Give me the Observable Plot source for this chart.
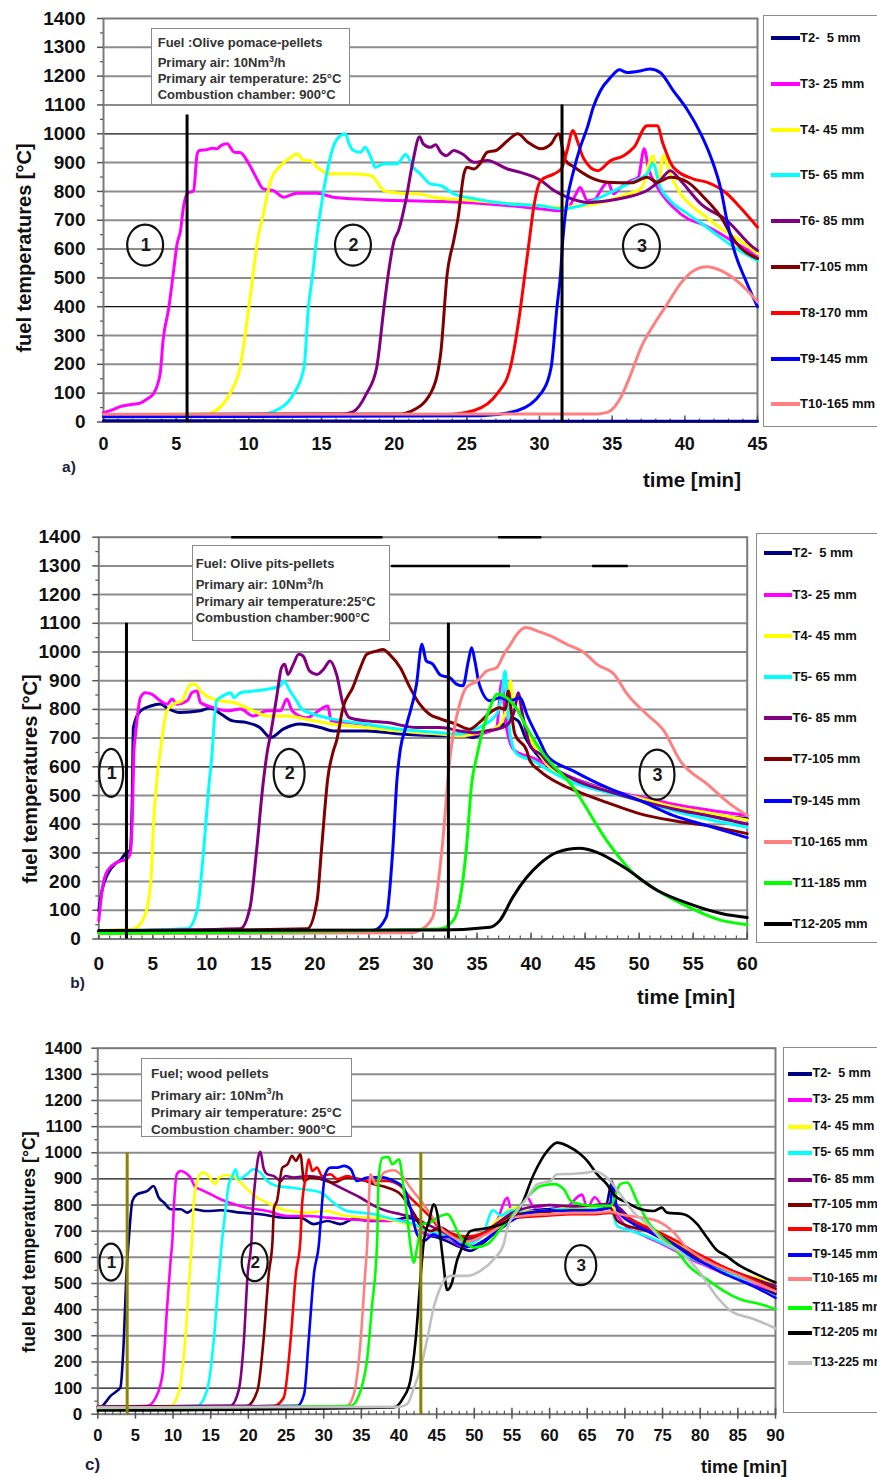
<!DOCTYPE html>
<html><head><meta charset="utf-8">
<script src="https://cdn.jsdelivr.net/npm/d3@7"></script>
<script src="https://cdn.jsdelivr.net/npm/@observablehq/plot@0.6"></script>
<style>
body{margin:0;background:#fff;}
#root{position:relative;width:877px;height:1477px;overflow:hidden;font-family:"Liberation Sans",Arial,sans-serif;font-weight:bold;color:#111;}
#root svg{position:absolute;left:0;}
.box{position:absolute;background:#fff;border:1.5px solid #8a8a8a;box-sizing:border-box;}
.note{position:absolute;background:#fff;border:1.5px solid #8a8a8a;box-sizing:border-box;font-size:13px;color:#333;white-space:nowrap;}
.lbl{position:absolute;white-space:pre;transform:translate(-50%,-50%);}
.ytitle{position:absolute;white-space:nowrap;transform:translate(-50%,-50%) rotate(-90deg);}
.legtxt{position:absolute;white-space:pre;font-size:13px;color:#111;}
.legline{position:absolute;height:4px;}
</style></head>
<body><div id="root"></div>
<script>
// ---------------- series names / colours ----------------
const seriesColors = {T2:"#000080",T3:"#ff00ff",T4:"#ffff00",T5:"#00ffff",T6:"#800080",T7:"#800000",T8:"#ff0000",T9:"#0000ff",T10:"#ff8080",T11:"#00ff00",T12:"#000000",T13:"#c0c0c0"};

const legendA = ["T2-  5 mm","T3- 25 mm","T4- 45 mm","T5- 65 mm","T6- 85 mm","T7-105 mm","T8-170 mm","T9-145 mm","T10-165 mm"];
const legendB = ["T2-  5 mm","T3- 25 mm","T4- 45 mm","T5- 65 mm","T6- 85 mm","T7-105 mm","T9-145 mm","T10-165 mm","T11-185 mm","T12-205 mm"];
const legendC = ["T2-  5 mm","T3- 25 mm","T4- 45 mm","T5- 65 mm","T6- 85 mm","T7-105 mm","T8-170 mm","T9-145 mm","T10-165 mm","T11-185 mm","T12-205 mm","T13-225 mm"];

const yTicks = [0,100,200,300,400,500,600,700,800,900,1000,1100,1200,1300,1400];
const yMinor = [50,150,250,350,450,550,650,750,850,950,1050,1150,1250,1350];
const xTicksA = [0,5,10,15,20,25,30,35,40,45];
const xTicksB = [0,5,10,15,20,25,30,35,40,45,50,55,60];
const xTicksC = [0,5,10,15,20,25,30,35,40,45,50,55,60,65,70,75,80,85,90];

// ---------------- panel a : olive pomace pellets ----------------
const a_T2 = [[0,4],[10,4],[20,3],[30,3],[45,3]];
const a_T3 = [[0,32],[0.6,42],[1.2,54],[1.8,60],[2.5,65],[3.0,80],[3.45,99],[3.9,168],[4.1,283],[4.5,398],[4.8,515],[5.07,619],[5.3,664],[5.5,745],[5.75,792],[6.2,803],[6.45,931],[6.6,942],[7.1,945],[7.5,950],[7.8,948],[8.1,960],[8.5,965],[9.0,936],[9.4,935],[10.0,896],[10.5,849],[11.0,809],[11.7,803],[12.4,780],[13.3,794],[14.7,794],[15.8,780],[18.1,772],[23.2,765],[26,758],[28,750],[30,740],[31.4,733],[32.0,745],[32.5,790],[32.8,814],[33.3,768],[33.8,772],[34.2,803],[34.7,832],[35.1,792],[35.6,815],[36.2,835],[36.8,850],[37.2,948],[37.5,880],[38.1,815],[39.2,745],[40.2,705],[41.1,688],[42.2,660],[43.2,630],[44.2,600],[45,570]];
const a_T4 = [[0,25],[7.0,28],[7.6,36],[8.7,99],[9.4,190],[10.0,398],[10.3,515],[10.6,630],[11.0,722],[11.5,837],[12.2,890],[12.9,918],[13.3,931],[13.8,907],[14.2,907],[14.7,884],[15.6,861],[17.0,861],[18.4,855],[19.3,803],[20.4,794],[21.6,792],[22.7,780],[25,770],[28,758],[30,750],[31.5,745],[33,750],[34.5,765],[36,790],[37.0,810],[37.8,924],[38.2,826],[38.5,924],[39.0,860],[39.7,792],[40.6,745],[41.5,710],[42.7,664],[43.8,630],[45,585]];
const a_T5 = [[0,25],[11.0,28],[11.7,36],[13.1,99],[13.8,190],[14.1,398],[14.4,515],[14.65,630],[14.9,722],[15.5,896],[16.0,976],[16.65,1000],[16.9,965],[17.2,942],[17.7,936],[18.0,953],[18.4,918],[18.7,884],[19.3,896],[20.2,896],[20.8,928],[21.3,884],[21.8,861],[22.5,826],[23.2,820],[24.1,792],[25.5,775],[27.8,757],[30.1,750],[31.5,740],[32.8,750],[34.7,792],[36.5,837],[37.4,860],[37.8,896],[38.3,815],[39.0,768],[40.2,722],[41.5,676],[43.4,606],[45,560]];
const a_T6 = [[0,25],[16.5,28],[17.2,36],[18.1,99],[18.8,190],[19.3,398],[19.6,515],[20.0,630],[20.3,664],[20.8,768],[21.3,907],[21.75,990],[22.0,965],[22.5,953],[22.85,962],[23.2,936],[23.6,924],[24.1,942],[24.7,930],[25.5,901],[26.4,907],[27.8,878],[28.7,866],[30.1,838],[31.0,803],[31.9,780],[33.3,762],[34.7,768],[36.0,780],[37.4,803],[38.3,838],[39.0,872],[39.7,838],[41.1,757],[42.9,699],[44.7,606],[45,595]];
const a_T7 = [[0,25],[20.5,28],[21.1,36],[22.5,99],[23.2,237],[23.65,515],[24.1,630],[24.4,710],[24.8,861],[25.0,884],[25.5,878],[25.9,896],[26.4,936],[27.0,942],[27.8,976],[28.5,1000],[29.2,971],[30.1,948],[30.8,965],[31.3,1000],[31.8,907],[32.4,884],[33.5,849],[34.7,832],[36.3,830],[37.4,849],[38.1,832],[39.0,849],[40.2,832],[41.3,780],[42.5,710],[43.4,630],[45,567]];
const a_T8 = [[0,20],[23.2,24],[25.5,40],[27.1,99],[28.0,190],[28.7,398],[29.0,515],[29.3,630],[29.6,745],[30.1,838],[31.0,861],[31.5,878],[31.9,942],[32.3,1011],[32.6,976],[33.0,918],[34.0,872],[34.9,907],[35.8,924],[36.5,953],[37.4,1028],[38.1,1028],[38.5,965],[39.2,884],[40.6,843],[41.5,832],[42.9,792],[43.8,745],[45,676]];
const a_T9 = [[0,18],[26,22],[28.5,40],[30.1,99],[30.8,190],[31.2,398],[31.45,515],[31.6,630],[31.9,768],[32.35,872],[32.8,953],[33.3,1023],[33.7,1092],[34.2,1150],[34.9,1196],[35.5,1222],[36.0,1213],[37.0,1219],[37.6,1225],[38.3,1213],[39.2,1150],[40.2,1081],[41.1,1000],[41.8,918],[42.5,803],[42.9,699],[43.4,595],[44.2,490],[45,400]];
const a_T10 = [[0,27],[34,28],[34.7,34],[35.6,86],[36.3,168],[37.0,260],[37.9,341],[38.8,410],[39.7,480],[40.6,525],[41.5,539],[42.5,525],[43.4,497],[44.3,456],[45,416]];
const a_phase = [{t:5.75, top:1065},{t:31.55, top:1100}];
const a_zones = [{t:2.9, v:612, label:"1"},{t:17.2, v:612, label:"2"},{t:37.05, v:609, label:"3"}];

// ---------------- panel b : olive pits pellets ----------------
const b_T2 = [[0,100],[0.3,170],[0.8,225],[1.5,262],[2.0,275],[2.45,297],[2.9,310],[3.1,500],[3.2,737],[3.85,795],[4.8,812],[5.7,819],[6.3,805],[7.5,789],[9.4,795],[10.3,805],[11.3,784],[12.4,760],[13.7,754],[14.9,737],[15.9,702],[17.1,732],[18.6,749],[20.5,737],[21.7,725],[24.8,725],[27.9,714],[31.6,708],[33.4,714],[34.6,702],[35.9,725],[36.8,732],[37.5,749],[38.2,770],[38.8,760],[39.5,700],[40.5,645],[42,590],[43.9,560],[47,520],[50.1,485],[53.2,455],[56.3,435],[60,420]];
const b_T3 = [[0,64],[0.3,169],[0.8,238],[1.7,267],[2.6,279],[2.9,297],[3.1,424],[3.25,655],[3.4,714],[3.85,841],[4.3,858],[4.9,853],[5.7,830],[6.3,818],[6.8,836],[7.2,818],[8.2,830],[8.6,858],[9.1,864],[9.4,824],[10.6,806],[11.9,795],[13.1,801],[14.3,777],[15.6,795],[16.8,795],[17.4,836],[17.9,795],[19.2,771],[21.2,812],[21.5,760],[23.2,754],[26.3,737],[29.4,719],[31.6,714],[33.4,708],[35.2,714],[36.8,737],[37.3,899],[37.6,771],[38.1,679],[38.5,656],[40.2,630],[43.9,560],[47,520],[50.1,495],[53.2,470],[56.3,450],[60,430]];
const b_T4 = [[0,30],[3.2,35],[4.2,76],[4.8,192],[5.1,424],[5.4,563],[5.7,655],[6.3,795],[6.9,818],[7.7,830],[8.5,888],[8.9,888],[9.4,864],[10.0,847],[11.2,830],[12.5,824],[14.3,795],[15.6,777],[17.4,777],[19.2,766],[21.7,748],[24.8,737],[27.9,725],[31.6,714],[33.4,708],[35.2,719],[36.8,737],[37.7,795],[38.1,899],[38.3,830],[38.8,853],[39.2,771],[40.2,679],[41.7,600],[43.9,555],[47,518],[50.1,490],[53.2,460],[56.3,440],[60,415]];
const b_T5 = [[0,28],[8.2,36],[9.1,99],[9.7,308],[10.2,540],[10.5,655],[10.6,714],[10.9,830],[11.5,847],[12.2,858],[12.5,841],[13.1,858],[14.3,864],[15.6,870],[16.8,882],[17.1,899],[17.7,864],[18.3,830],[18.8,801],[19.9,783],[21.7,766],[24.8,748],[27.9,731],[31.6,719],[33.4,714],[35.2,737],[36.8,783],[37.3,853],[37.6,934],[37.8,830],[38.1,702],[38.7,644],[40.2,621],[41.7,586],[43.9,545],[47,511],[50.1,482],[53.2,447],[56.3,418],[60,389]];
const b_T6 = [[0,28],[13.1,36],[14.0,111],[14.6,308],[15.2,540],[15.6,655],[15.9,714],[16.5,853],[16.9,945],[17.2,957],[17.5,922],[18.0,957],[18.5,992],[18.9,986],[19.5,934],[20.2,922],[20.8,940],[21.4,969],[22.0,922],[22.6,818],[23.2,771],[24.8,760],[26.7,754],[29.4,737],[31.6,737],[33.4,725],[34.6,719],[35.9,725],[36.8,731],[37.7,743],[38.5,801],[38.8,858],[39.2,783],[40.0,667],[41.0,640],[41.4,621],[43.9,557],[47,516],[50.1,482],[53.2,453],[56.3,430],[60,401]];
const b_T7 = [[0,27],[19.3,36],[20.2,134],[20.6,308],[21.2,563],[21.7,655],[22.0,690],[22.6,806],[23.5,876],[24.2,945],[24.8,992],[25.7,1003],[26.3,1009],[26.9,992],[27.9,945],[28.8,876],[29.7,818],[30.6,783],[31.6,767],[33.1,748],[34.3,731],[35.2,754],[36.2,789],[37.1,806],[37.6,800],[37.9,864],[38.2,783],[38.5,714],[39.6,656],[39.9,621],[40.8,586],[42.7,540],[44.5,511],[47.0,476],[50.1,436],[53.2,412],[56.3,395],[60,367]];
const b_T9 = [[0,25],[25.4,30],[26.6,76],[27.2,308],[27.6,560],[27.9,660],[28.5,749],[29.4,888],[29.9,1027],[30.3,969],[30.9,958],[31.6,920],[32.5,910],[33.1,888],[33.7,882],[34.2,969],[34.5,1015],[34.8,969],[35.2,888],[36.2,830],[37.1,841],[38.1,830],[39.0,841],[39.6,783],[40.8,690],[41.5,638],[43.9,586],[47,528],[50.1,482],[53.2,430],[56.3,395],[60,353]];
const b_T10 = [[0,18],[29.0,22],[29.7,30],[30.9,76],[31.4,192],[31.8,330],[32.5,632],[32.8,714],[33.4,819],[34.0,876],[35.0,899],[35.9,934],[36.8,945],[37.5,993],[38.1,1027],[38.7,1062],[39.5,1085],[40.6,1073],[41.8,1056],[43.3,1027],[44.9,998],[46.1,957],[47.7,922],[48.9,853],[50.7,783],[52.3,725],[53.8,621],[56.3,540],[58.4,471],[60,430]];
const b_T11 = [[0,20],[31.5,35],[32.8,64],[33.4,134],[34.0,308],[34.5,540],[35.0,640],[35.6,737],[36.2,806],[36.9,854],[37.7,841],[38.6,806],[39.6,737],[40.8,662],[43.9,528],[47.0,343],[49.5,228],[51.7,169],[54.6,111],[57.7,64],[60,50]];
const b_T12 = [[0,30],[31.5,31],[36.2,41],[37.1,64],[38.3,145],[39.6,215],[40.8,262],[42.4,302],[44.5,316],[46.1,302],[48.6,250],[51.7,169],[54.6,123],[57.7,88],[60,75]];
const b_phase = [{t:2.56, top:1100},{t:32.35, top:1100}];
const b_zones = [{t:1.19, v:577, label:"1"},{t:17.66, v:577, label:"2"},{t:51.7, v:571, label:"3"}];
const b_scanMarks = [{v:1400, t1:12.3, t2:26.3},{v:1400, t1:37.0, t2:41.0},{v:1300, t1:27.1, t2:38.1},{v:1300, t1:45.7, t2:49.0}];

// ---------------- panel c : wood pellets ----------------
const c_T2 = [[0,25],[0.6,32],[1.7,70],[2.6,90],[3.0,102],[3.45,281],[3.8,536],[4.1,662],[4.6,816],[5.2,841],[6.6,854],[7.4,873],[8.1,828],[8.8,809],[9.7,784],[11.0,784],[11.9,771],[12.7,784],[14.5,777],[16.3,780],[19.0,771],[21.6,765],[24.7,752],[26.9,752],[28.7,727],[30.5,739],[32.2,727],[34.0,746],[36.7,739],[39.3,742],[41.1,752],[42.4,739],[43.5,688],[45.1,676],[46.5,660],[48,640],[49.5,625],[51,650],[53,700],[54,720],[56,770],[58,780],[60,785],[62,790],[64,795],[66,790],[67.5,800],[68.3,890],[68.8,800],[70,760],[72,730],[74,700],[76,660],[78,620],[80,585],[82,560],[84,535],[86,510],[88,485],[90,460]];
const c_T3 = [[0,28],[6.6,32],[7.7,64],[8.6,154],[9.2,408],[9.7,599],[9.9,662],[10.1,790],[10.5,918],[11.0,930],[11.6,924],[12.3,905],[13.0,867],[13.6,860],[15.0,841],[16.3,822],[18.1,803],[19.8,790],[22.5,777],[25.2,758],[27.8,758],[30.5,752],[33.1,746],[35.8,742],[38.4,739],[40.2,742],[42.0,720],[43.7,688],[45.5,682],[47,665],[48.5,640],[50,660],[51.5,700],[53,740],[54.4,828],[55,770],[56,790],[57,830],[58,790],[60,800],[62,790],[64.3,840],[65,790],[66,830],[67,800],[68,805],[69,760],[70.3,714],[72,690],[73,676],[75,650],[77,620],[79,590],[81,565],[83,540],[85,520],[87,500],[90,470]];
const c_T4 = [[0,28],[9.7,32],[10.8,90],[11.6,281],[12.2,536],[12.5,662],[12.7,790],[13.2,892],[13.9,924],[14.5,918],[15.2,892],[15.6,880],[16.1,905],[17.2,915],[18.1,907],[19.0,886],[20.1,854],[21.2,828],[22.5,809],[23.8,790],[25.6,777],[27.8,771],[30.5,777],[31.3,771],[33.1,758],[35.8,752],[38.4,746],[41.1,727],[43.7,701],[45.5,688],[47,680],[49,660],[51,690],[53,740],[54.5,780],[55.5,790],[57,775],[60,780],[63,790],[66,790],[68,800],[69,770],[71,740],[73,720],[75,690],[77,650],[79,610],[81,585],[83,560],[85,540],[87,525],[90,505]];
const c_T5 = [[0,28],[13.2,32],[14.5,90],[15.4,281],[16.1,536],[16.5,662],[17.0,790],[17.4,880],[17.8,905],[18.3,937],[18.7,899],[19.8,918],[20.7,937],[21.6,924],[22.5,892],[23.8,873],[25.6,867],[27.4,860],[29.6,848],[31.3,809],[33.1,777],[34.9,771],[36.7,765],[38.4,752],[40.2,739],[42.0,727],[43.7,701],[45.5,688],[47,670],[49,650],[51,680],[52.5,780],[53.5,760],[55,780],[57,770],[60,780],[63,785],[66,785],[68,790],[69,720],[71,700],[73,680],[75,655],[77,625],[79,595],[81,570],[83,545],[85,525],[87,505],[90,480]];
const c_T6 = [[0,28],[17.6,32],[18.7,90],[19.4,281],[19.9,536],[20.4,662],[20.6,790],[20.9,892],[21.4,994],[21.6,1004],[22.0,943],[22.5,918],[23.4,911],[24.3,892],[24.9,911],[26.0,905],[27.8,911],[29.6,905],[31.3,880],[33.1,854],[34.9,828],[36.7,797],[38.4,777],[40.2,765],[42.0,752],[43.7,727],[45.5,701],[47,680],[49,665],[51,690],[53,730],[55,770],[57,790],[60,800],[63,795],[66,800],[68,805],[69.2,790],[71,740],[73,710],[75,680],[77,645],[79,610],[81,585],[83,560],[85,540],[87,520],[90,490]];
const c_T7 = [[0,28],[19.8,32],[21.2,90],[22.0,281],[22.7,536],[23.2,662],[23.4,790],[23.8,816],[24.5,943],[25.2,956],[25.8,988],[26.3,969],[26.9,994],[27.4,892],[28.2,905],[29.6,899],[31.3,886],[33.1,905],[34.9,899],[36.7,880],[38.4,867],[40.2,841],[41.5,790],[42.9,727],[44.2,701],[45.5,714],[47,690],[49,675],[51,690],[53,720],[55,760],[57,770],[60,775],[63,780],[66,780],[68,790],[69,740],[71,715],[73,700],[75,670],[77,640],[79,610],[81,585],[83,560],[85,535],[87,515],[90,480]];
const c_T8 = [[0,25],[23.4,32],[24.7,64],[25.6,281],[26.3,536],[26.9,662],[27.1,790],[27.6,905],[28.0,975],[28.5,930],[29.1,943],[29.8,911],[30.9,918],[31.8,899],[33.1,911],[34.9,895],[36.7,892],[38.4,892],[40.2,873],[41.5,828],[42.9,790],[44.2,752],[45.5,708],[47,690],[49,680],[51,690],[53,720],[55,750],[57,755],[60,760],[63,765],[66,765],[68,770],[69.4,765],[71,740],[73,715],[75,690],[77,660],[79,625],[81,595],[83,565],[85,540],[87,515],[90,470]];
const c_T9 = [[0,25],[26.5,32],[27.4,77],[28.0,281],[28.7,536],[29.4,662],[29.6,739],[30.2,918],[30.9,943],[31.8,943],[32.7,950],[33.6,937],[34.4,892],[35.8,905],[37.5,907],[39.3,892],[40.6,867],[41.5,790],[42.4,688],[43.3,663],[44.6,688],[45.5,676],[46.5,680],[48,650],[49.5,640],[51,660],[53,700],[55,740],[57,770],[60,780],[63,775],[66,780],[68,790],[68.4,880],[69,780],[71,730],[73,700],[75,670],[77,640],[79,600],[81,570],[83,540],[85,515],[87,490],[90,445]];
const c_T10 = [[0,25],[33.0,30],[34.0,77],[34.9,281],[35.5,536],[35.8,662],[36.0,816],[36.2,918],[36.9,880],[38.0,924],[39.3,933],[40.2,918],[41.5,867],[42.9,816],[44.2,765],[45.5,714],[47,680],[49,660],[51,680],[53,710],[55,750],[57,760],[60,765],[63,770],[66,770],[68,775],[69.4,765],[72.1,752],[74.3,739],[76.5,695],[78.2,637],[80,600],[82,570],[84,545],[86,520],[88,495],[90,470]];
const c_T11 = [[0,22],[33.6,32],[34.9,90],[35.8,217],[36.4,408],[37.1,662],[37.3,905],[37.8,981],[38.6,984],[39.1,956],[40.0,975],[40.6,867],[41.3,701],[41.5,650],[42.0,580],[42.4,637],[43.1,727],[44.2,733],[45.1,752],[46.4,765],[48.2,676],[49.9,637],[51.7,650],[53.5,708],[55.2,765],[57.4,841],[58.8,873],[60.6,880],[61.9,860],[62.8,816],[64.1,803],[66.3,797],[68.1,797],[69.4,880],[70.3,886],[71.6,816],[73.0,739],[74.7,682],[76.5,637],[78.7,561],[80.9,516],[83.1,472],[85.3,440],[88.0,421],[90,402]];
const c_T12 = [[0,14],[39.3,26],[40.6,64],[41.5,128],[42.2,281],[42.9,536],[43.3,662],[44.0,739],[44.6,803],[45.1,765],[45.8,600],[46.4,475],[47.0,500],[47.7,587],[48.2,625],[49.5,701],[52.1,714],[54.4,739],[56.1,790],[57.9,918],[59.7,1007],[61.0,1039],[62.4,1026],[64.1,994],[65.0,969],[66.3,918],[67.6,880],[68.5,841],[70.3,809],[72.1,784],[73.8,777],[74.9,790],[75.6,771],[77.8,765],[79.6,727],[80.9,676],[82.3,625],[83.1,612],[85.3,567],[88.0,529],[90,504]];
const c_T13 = [[0,25],[40,28],[41.1,39],[42.0,102],[42.9,179],[43.7,281],[44.6,408],[45.5,485],[46.8,529],[49.1,529],[50.8,548],[52.6,593],[53.9,650],[54.4,714],[55.7,777],[57.0,828],[58.4,880],[60.1,892],[61.0,918],[63.2,920],[65.0,924],[65.9,930],[67.6,905],[69.4,841],[71.2,771],[73.0,727],[75.6,650],[76.5,637],[79.6,555],[82.3,446],[84.0,396],[87.1,364],[90,329]];
const c_phase = [{t:3.9, top:1000},{t:42.9, top:1000}];
const c_zones = [{t:1.82, v:580, label:"1"},{t:20.9, v:580, label:"2"},{t:64.2, v:568, label:"3"}];

// ---------------- layout ----------------
const FONT = "Liberation Sans, Arial, sans-serif";
const root = document.getElementById("root");

function addDiv(cls, css, html) {
  const d = document.createElement("div");
  d.className = cls;
  Object.assign(d.style, css);
  d.innerHTML = html;
  root.appendChild(d);
  return d;
}

function drawPanel(p) {
  const rows = [];
  p.series.forEach(([name, data]) => data.forEach(([t, v]) => rows.push({name, t, v})));
  const names = p.series.map(s => s[0]);
  const grid = yTicks.filter(v => v > 0 && v < 1400);
  const marks = [
    Plot.ruleY(grid.filter(g => !p.dark.includes(g)), {stroke: "#8c8c8c", strokeWidth: 2}),
    Plot.ruleY(p.dark, {stroke: "#111", strokeWidth: 1.2}),
    Plot.frame({stroke: "#7a7a7a", strokeWidth: 2})
  ];
  if (p.scan) marks.push(Plot.ruleY(p.scan, {y: "v", x1: "t1", x2: "t2", stroke: "#000", strokeWidth: 2.5}));
  marks.push(
    // y ticks on the left
    Plot.ruleY(yTicks, {x1: 0, x2: 0, insetLeft: -6, stroke: "#555", strokeWidth: 1.5}),
    Plot.ruleY(yMinor, {x1: 0, x2: 0, insetLeft: -3, stroke: "#555", strokeWidth: 1.2}),
    // x ticks
    Plot.ruleX(p.xTicks, {y1: 0, y2: 0, insetTop: -6, insetBottom: p.crossTicks ? -5 : 0, stroke: "#555", strokeWidth: 1.5}),
    Plot.ruleX(d3.range(0, p.xMax + 1, 1), {y1: 0, y2: 0, insetTop: -3, insetBottom: p.crossTicks ? -1 : 0, stroke: "#555", strokeWidth: 1.2}),
    Plot.axisY({ticks: yTicks, tickSize: 0, tickPadding: p.yPad, fontSize: p.yFont, tickFormat: "d", fill: "#111", label: null}),
    Plot.axisX({ticks: p.xTicks, tickSize: 0, tickPadding: p.xPad, fontSize: p.xFont, tickFormat: "d", fill: "#111", label: null}),
    Plot.line(rows, {x: "t", y: "v", z: "name", stroke: "name", strokeWidth: p.lw, curve: "monotone-x"}),
    Plot.ruleX(p.phase, {x: "t", y1: 0, y2: "top", stroke: p.phaseColor, strokeWidth: 3}),
    Plot.text(p.zones, {x: "t", y: "v", text: "label", fontSize: p.zoneFont, fill: "#1a1a1a"})
  );
  const chart = Plot.plot({
    width: 877, height: p.height,
    marginLeft: p.m[0], marginRight: p.m[1], marginTop: p.m[2], marginBottom: p.m[3],
    x: {domain: [0, p.xMax], axis: null, label: null},
    y: {domain: [0, 1400], axis: null, label: null},
    color: {domain: names, range: names.map(n => seriesColors[n])},
    style: {fontFamily: FONT, fontWeight: "bold", background: "transparent", overflow: "visible"},
    marks
  });
  chart.style.top = p.top + "px";
  root.appendChild(chart);
  const sx = chart.scale("x"), sy = chart.scale("y");
  d3.select(chart).selectAll("ellipse.zone").data(p.zones).join("ellipse")
    .attr("class", "zone")
    .attr("cx", d => sx.apply(d.t)).attr("cy", d => sy.apply(d.v))
    .attr("rx", (d, i) => p.zoneR[i][0]).attr("ry", (d, i) => p.zoneR[i][1])
    .attr("fill", "none").attr("stroke", "#111").attr("stroke-width", 2.2);

  // legend
  addDiv("box", {left: p.leg.box[0] + "px", top: p.leg.box[1] + "px", width: "150px", height: p.leg.box[2] + "px"}, "");
  p.legendLabels.forEach((lab, i) => {
    const y = p.leg.ys[i];
    addDiv("legline", {left: p.leg.line[0] + "px", width: p.leg.line[1] + "px", top: (y - 2) + "px", background: seriesColors[names[i]]}, "");
    addDiv("legtxt", {left: p.leg.text + "px", top: (y - 8) + "px", fontSize: p.leg.font + "px"}, lab);
  });
  // note box
  const n = p.note;
  addDiv("note", {left: n.box[0] + "px", top: n.box[1] + "px", width: n.box[2] + "px", height: n.box[3] + "px",
    paddingLeft: n.pad[0] + "px", paddingTop: n.pad[1] + "px", lineHeight: n.lh + "px", fontSize: n.font + "px"},
    n.lines.join("<br>"));
  // titles
  addDiv("ytitle", {left: p.ytitle[0] + "px", top: p.ytitle[1] + "px", fontSize: p.ytitle[2] + "px"}, p.ytitleText);
  addDiv("lbl", {left: p.xtitle[0] + "px", top: p.xtitle[1] + "px", fontSize: p.xtitle[2] + "px"}, "time [min]");
  addDiv("lbl", {left: p.tag[0] + "px", top: p.tag[1] + "px", fontSize: p.tag[2] + "px", color: "#1c1c3a"}, p.tagText);
}

drawPanel({
  top: 0, height: 500, m: [103, 120, 18, 78.5], xMax: 45, xTicks: xTicksA,
  yPad: 18, yFont: 19, xPad: 15, xFont: 18, lw: 3, dark: [1000, 400],
  series: [["T2",a_T2],["T3",a_T3],["T4",a_T4],["T5",a_T5],["T6",a_T6],["T7",a_T7],["T8",a_T8],["T9",a_T9],["T10",a_T10]],
  phase: a_phase, phaseColor: "#000", zones: a_zones, zoneR: [[18,20.5],[18,20.5],[18.5,22]], zoneFont: 18,
  legendLabels: legendA,
  leg: {box: [763, 15, 412], line: [771, 29], text: 800, font: 13, ys: [38,84,130,175,221,267,313,359,404]},
  note: {box: [150.7, 28, 199.3, 77], pad: [6, 5.5], lh: 16.2, font: 13,
    lines: ["Fuel :Olive pomace-pellets","Primary air: 10Nm<sup style='font-size:9px'>3</sup>/h","Primary air temperature: 25°C","Combustion chamber: 900°C"]},
  ytitle: [24, 248, 20], ytitleText: "fuel temperatures [°C]",
  xtitle: [692, 480, 20.5], tag: [69, 466.5, 15.5], tagText: "a)"
});

drawPanel({
  top: 500, height: 510, m: [98.3, 130.3, 36.7, 71.5], xMax: 60, xTicks: xTicksB, scan: b_scanMarks,
  yPad: 18, yFont: 19, xPad: 17, xFont: 19, lw: 3, dark: [1000, 600],
  series: [["T2",b_T2],["T3",b_T3],["T4",b_T4],["T5",b_T5],["T6",b_T6],["T7",b_T7],["T9",b_T9],["T10",b_T10],["T11",b_T11],["T12",b_T12]],
  phase: b_phase, phaseColor: "#000", zones: b_zones, zoneR: [[12,24],[15.5,24],[17.5,25]], zoneFont: 18,
  legendLabels: legendB,
  leg: {box: [756, 533, 410], line: [764, 28], text: 792.5, font: 13, ys: [553,595,636,677,718,759,801,842,883,924]},
  note: {box: [191.7, 545, 198.3, 95.7], pad: [3, 10], lh: 16.7, font: 13,
    lines: ["Fuel: Olive pits-pellets","Primary air: 10Nm<sup style='font-size:9px'>3</sup>/h","Primary air temperature:25°C","Combustion chamber:900°C"]},
  ytitle: [29.5, 779, 20], ytitleText: "fuel temperatures [°C]",
  xtitle: [686, 996.5, 20.5], tag: [77.5, 983, 15.5], tagText: "b)"
});

drawPanel({
  top: 1010, height: 467, m: [97.3, 102, 37.7, 63.3], xMax: 90, xTicks: xTicksC, crossTicks: true,
  yPad: 15.5, yFont: 17, xPad: 15, xFont: 16.5, lw: 2.6, dark: [900, 100],
  series: [["T2",c_T2],["T3",c_T3],["T4",c_T4],["T5",c_T5],["T6",c_T6],["T7",c_T7],["T8",c_T8],["T9",c_T9],["T10",c_T10],["T11",c_T11],["T12",c_T12],["T13",c_T13]],
  phase: c_phase, phaseColor: "#8a8400", zones: c_zones, zoneR: [[11.5,18.5],[13,19],[15.5,20]], zoneFont: 17,
  legendLabels: legendC,
  leg: {box: [782.7, 1047, 366], line: [788, 24], text: 812.5, font: 12.5, ys: [1074,1100,1127,1153,1180,1205,1229,1255,1279,1308,1333,1363]},
  note: {box: [141, 1058, 211, 78.7], pad: [9, 6], lh: 17.5, font: 13.5,
    lines: ["Fuel; wood pellets","Primary air: 10Nm<sup style='font-size:9px'>3</sup>/h","Primary air temperature: 25°C","Combustion chamber: 900°C"]},
  ytitle: [29, 1242, 17.7], ytitleText: "fuel bed temperatures [°C]",
  xtitle: [744, 1467, 18], tag: [92.5, 1465, 17], tagText: "c)"
});
</script>
</body></html>
